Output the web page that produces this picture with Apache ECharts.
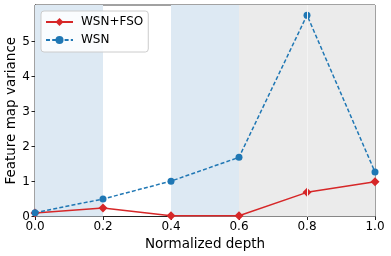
<!DOCTYPE html>
<html><head><meta charset="utf-8">
<script src="https://cdn.jsdelivr.net/npm/echarts@6/dist/echarts.min.js"></script>
<style>html,body{margin:0;padding:0;background:#fff}#c{width:391px;height:256px}</style>
</head><body><div id="c"></div>
<script>
const depth = [0.0, 0.2, 0.4, 0.6, 0.8, 1.0];
const wsnFso = [0.10, 0.24, 0.02, 0.02, 0.69, 0.99];
const wsn = [0.11, 0.50, 1.01, 1.69, 5.75, 1.27];
const yTicks = [0, 1, 2, 3, 4, 5];
const bandStart = [0.0, 0.4, 0.6];
const bandEnd = [0.2, 0.6, 1.0];
const bandKind = ['blue', 'blue', 'grey'];
const bandColors = {blue: '#dde9f3', grey: '#ebebeb'};

const font = 'DejaVu Sans';
const chart = echarts.init(document.getElementById('c'), null, {renderer: 'canvas'});
chart.setOption({
  animation: false,
  textStyle: {fontFamily: font},
  grid: {left: 35, right: 16, top: 5, bottom: 39.5, containLabel: false, outerBoundsMode: 'none',
         show: true, borderColor: '#444', borderWidth: 1, backgroundColor: 'transparent'},
  legend: {
    left: 41, top: 11, orient: 'vertical',
    padding: [4, 5, 5, 4], itemGap: 4, itemWidth: 27, itemHeight: 10,
    backgroundColor: 'rgba(255,255,255,0.85)', borderColor: '#cccccc', borderWidth: 1, borderRadius: 3,
    textStyle: {fontFamily: font, fontSize: 12, color: '#000', padding: [0, 0, 0, 3], lineHeight: 14},
    data: ['WSN+FSO', 'WSN']
  },
  xAxis: {
    type: 'value', min: 0, max: 1, interval: 0.2,
    name: 'Normalized depth', nameLocation: 'middle', nameGap: 21, nameMoveOverlap: false,
    nameTextStyle: {fontFamily: font, fontSize: 13.5, color: '#000'},
    axisLine: {show: true, lineStyle: {color: '#222', width: 1}},
    axisTick: {show: true, length: 3.5, lineStyle: {color: '#222'}},
    axisLabel: {fontFamily: font, fontSize: 12, color: '#000', margin: 4, formatter: v => v.toFixed(1)},
    splitLine: {show: false}
  },
  yAxis: {
    type: 'value', min: 0, max: 6.04,
    name: 'Feature map variance', nameLocation: 'middle', nameGap: 17, nameMoveOverlap: false,
    nameTextStyle: {fontFamily: font, fontSize: 13.5, color: '#000'},
    axisLine: {show: true, lineStyle: {color: '#222', width: 1}},
    axisTick: {show: true, length: 3.5, lineStyle: {color: '#222'}, customValues: yTicks},
    axisLabel: {fontFamily: font, fontSize: 12, color: '#000', margin: 5, customValues: yTicks},
    splitLine: {show: false}
  },
  series: [
    {
      name: 'bands', type: 'line', data: [], z: 0, silent: true,
      markArea: {
        silent: true,
        data: bandStart.map((s, i) => [
          {xAxis: s, itemStyle: {color: bandColors[bandKind[i]]}},
          {xAxis: bandEnd[i]}
        ])
      },
      markLine: {
        silent: true, symbol: 'none', label: {show: false},
        lineStyle: {color: '#f4f4f4', width: 1, type: 'solid'},
        data: [{xAxis: depth[4]}]
      }
    },
    {
      name: 'WSN+FSO', type: 'line', z: 3,
      data: depth.map((d, i) => [d, wsnFso[i]]),
      symbol: 'diamond', symbolSize: [9, 9],
      lineStyle: {color: '#d62728', width: 1.5},
      itemStyle: {color: '#d62728'}
    },
    {
      name: 'WSN', type: 'line', z: 4,
      data: depth.map((d, i) => [d, wsn[i]]),
      symbol: 'circle', symbolSize: 7,
      lineStyle: {color: '#1f77b4', width: 1.5, type: [4, 2.2]},
      itemStyle: {color: '#1f77b4'}
    }
  ]
});
</script></body></html>
